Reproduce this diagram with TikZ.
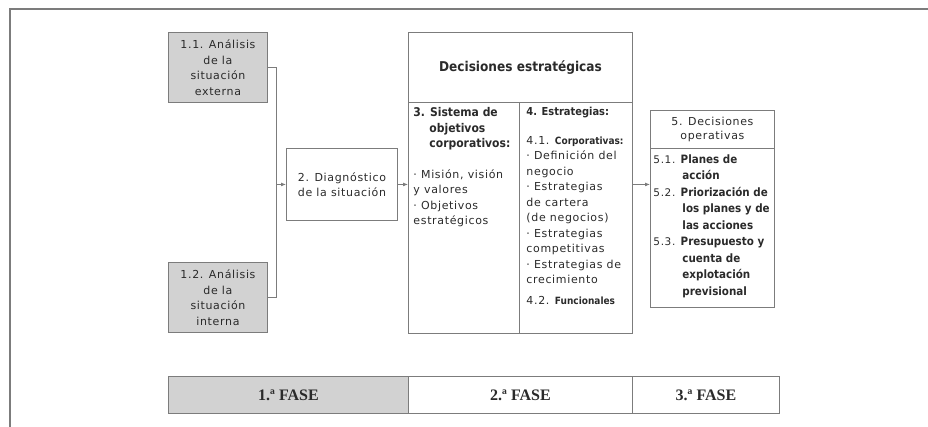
\documentclass[tikz,border=0pt]{standalone}
\usepackage{fontspec}
\setmainfont[LetterSpace=6]{DejaVu Sans}
\newfontfamily\negrita{DejaVu Sans Condensed Bold}
\newfontfamily\fasefont{Liberation Serif}
\usetikzlibrary{arrows.meta}

\definecolor{linea}{HTML}{7C7C7C}
\definecolor{fondo}{HTML}{D2D2D2}
\definecolor{texto}{HTML}{2A2A2A}

\newcommand{\itm}[1]{{\negrita\fontsize{10}{15.5}\selectfont #1}}
\newcommand{\opi}[1]{{\negrita\fontsize{11.5}{16.5}\selectfont #1}}
\newcommand{\ptt}{\textperiodcentered\ }

\begin{document}
\begin{tikzpicture}[x=1pt, y=-1pt,
    caja/.style={draw=linea, line width=0.9pt, text=texto, inner sep=0pt,
        anchor=north west, align=center, font=\fontsize{11}{15.5}\selectfont},
    anabox/.style={caja, fill=fondo, minimum width=99pt, minimum height=70pt},
    colbox/.style={caja, align=left, inner xsep=5pt, inner ysep=5pt},
    fasebox/.style={caja, minimum height=37pt, font=\fasefont\bfseries\fontsize{16}{18}\selectfont},
    flecha/.style={draw=linea, line width=0.9pt, -{Latex[length=5pt,width=4pt]}}]

    \useasboundingbox (0,0) rectangle (928,427);
    \draw[linea, line width=1.8pt] (928,9) -- (10,9) -- (10,427);

    % fase 1
    \node[anabox] (ext) at (168,32) {1.1. Análisis\\de la\\situación\\externa};
    \node[anabox] (int) at (168,262) {1.2. Análisis\\de la\\situación\\interna};
    \node[caja, minimum width=111pt, minimum height=72pt] (diag) at (286,148)
        {2. Diagnóstico\\de la situación};

    % fase 2
    \node[caja, minimum width=224pt, minimum height=70pt,
        font=\negrita\fontsize{13.5}{16}\selectfont] (dec) at (408,32) {Decisiones estratégicas};
    \node[colbox] (col3) at (408,102) {\parbox[t][221pt][t]{101pt}{%
        {\negrita\fontsize{12}{15.5}\selectfont 3. Sistema de\\
        \hspace*{16pt}objetivos\\
        \hspace*{16pt}corporativos:}\\[15pt]
        \ptt Misión, visión\\
        y valores\\
        \ptt Objetivos\\
        estratégicos}};
    \node[colbox, inner xsep=7pt] (col4) at (519,102) {\parbox[t][221pt][t]{99pt}{%
        {\negrita\fontsize{11}{15.5}\selectfont 4. Estrategias:}\\[13pt]
        4.1. \itm{Corporativas:}\\
        \ptt Definición del\\
        negocio\\
        \ptt Estrategias\\
        de cartera\\
        (de negocios)\\
        \ptt Estrategias\\
        competitivas\\
        \ptt Estrategias de\\
        crecimiento\\[5pt]
        4.2. \itm{Funcionales}}};

    % fase 3
    \node[caja, minimum width=124pt, minimum height=38pt,
        font=\fontsize{11}{14}\selectfont] (ophead) at (650,110) {5. Decisiones\\operativas};
    \node[colbox, inner xsep=3pt, inner ysep=6pt] (op) at (650,148) {\parbox[t][147pt][t]{118pt}{%
        \fontsize{10.5}{16.5}\selectfont
        5.1. \opi{Planes de}\\
        \hspace*{29pt}\opi{acción}\\
        5.2. \opi{Priorización de}\\
        \hspace*{29pt}\opi{los planes y de}\\
        \hspace*{29pt}\opi{las acciones}\\
        5.3. \opi{Presupuesto y}\\
        \hspace*{29pt}\opi{cuenta de}\\
        \hspace*{29pt}\opi{explotación}\\
        \hspace*{29pt}\opi{previsional}}};

    \draw[linea, line width=0.9pt] (ext.east) -- ++(9,0) coordinate (bus) |- (int.east);
    \draw[flecha] (bus |- diag.west) -- (diag.west);
    \draw[flecha] (diag.east) -- (diag.east -| col3.west);
    \draw[flecha] (diag.east -| col4.east) -- (diag.east -| op.west);

    \foreach \n/\x/\w/\c/\t in {f1/168/240/fondo/1.ª FASE, f2/408/224/white/2.ª FASE,
        f3/632/147/white/3.ª FASE} {
        \node[fasebox, fill=\c, minimum width=\w pt] (\n) at (\x,376) {\t};
    }
\end{tikzpicture}
\end{document}
